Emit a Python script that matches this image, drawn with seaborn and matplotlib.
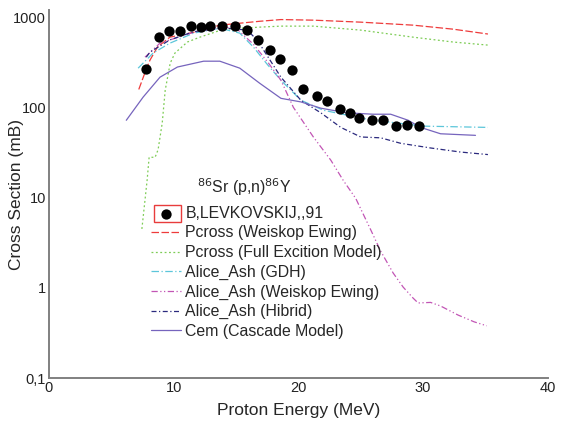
import numpy as np
import pandas as pd
import seaborn as sns
import matplotlib.pyplot as plt
from matplotlib.patches import Rectangle

# experimental data (B,LEVKOVSKIJ,,91)
exp_e = [7.8, 8.8, 9.6, 10.5, 11.4, 12.2, 12.9, 13.9, 14.9, 15.9, 16.8, 17.7, 18.5,
         19.5, 20.4, 21.5, 22.3, 23.3, 24.1, 24.9, 25.9, 26.8, 27.8, 28.7, 29.7]
exp_xs = [265, 600, 700, 700, 795, 775, 795, 795, 800, 718, 556, 431, 343,
          259, 159, 133, 117, 96, 86, 76, 72, 72, 62, 64, 62]

# Pcross (Weiskop Ewing)
pwe_e = [7.2, 7.8, 8.1, 8.7, 9.7, 11.6, 13.7, 16.9, 18.6, 21.2, 25.0, 29.2, 32.4, 35.2]
pwe_xs = [158, 265, 334, 467, 600, 680, 815, 900, 940, 926, 880, 815, 736, 650]

# Pcross (Full Excition Model)
pfe_e = [7.45, 7.87, 8.03, 8.51, 8.75, 9.08, 9.32, 9.72, 10.1, 11.1, 12.1, 14.0,
         16.9, 18.6, 21.2, 25.0, 29.2, 32.4, 35.2]
pfe_xs = [4.5, 15.6, 28, 28, 34, 67, 155, 309, 400, 530, 600, 735,
          775, 795, 795, 718, 600, 530, 490]

# Alice_Ash (GDH)
gdh_e = [7.15, 8.35, 9.7, 11.6, 13.7, 15.3, 16.4, 17.5, 18.6, 20.2, 22.0, 23.9, 26.0, 28.0, 30.0, 35.2]
gdh_xs = [272, 400, 515, 665, 755, 665, 465, 300, 200, 120, 93, 82, 72, 67, 62, 60]

# Alice_Ash (Weiskop Ewing)
awe_e = [7.7, 8.9, 11.6, 13.7, 15.0, 16.4, 17.6, 18.6, 19.6, 21.2, 22.6, 23.6, 24.6,
         25.8, 26.6, 27.6, 28.4, 29.2, 29.6, 30.6, 31.4, 32.8, 34.1, 35.1]
awe_xs = [360, 515, 680, 775, 755, 500, 310, 200, 100, 47, 26, 15.5, 9.8,
          4.4, 2.55, 1.46, 1.02, 0.77, 0.68, 0.69, 0.63, 0.5, 0.42, 0.38]

# Alice_Ash (Hibrid)
hyb_e = [7.8, 8.1, 9.7, 11.6, 14.0, 15.9, 16.7, 18.6, 20.2, 21.8, 23.4, 25.0, 26.6, 28.2, 30.6, 33.0, 35.2]
hyb_xs = [360, 410, 560, 690, 760, 718, 556, 216, 120, 87, 60, 47, 46, 40, 35.5, 32, 30]

# Cem (Cascade Model)
cem_e = [6.2, 7.55, 8.9, 10.3, 12.4, 13.7, 15.3, 16.9, 18.6, 20.2, 21.8, 23.9, 26.0,
         27.4, 28.8, 29.8, 31.4, 34.2]
cem_xs = [72, 130, 216, 280, 325, 325, 272, 185, 126, 115, 98, 87, 84,
          84, 72, 60, 51, 49]

models = [
    ("Pcross (Weiskop Ewing)", pwe_e, pwe_xs, "#ee3b3b", (6, 2)),
    ("Pcross (Full Excition Model)", pfe_e, pfe_xs, "#7dcc55", (1.5, 2)),
    ("Alice_Ash (GDH)", gdh_e, gdh_xs, "#5cc6da", (6, 2, 1, 2)),
    ("Alice_Ash (Weiskop Ewing)", awe_e, awe_xs, "#c255b5", (5, 2, 1, 2, 1, 2)),
    ("Alice_Ash (Hibrid)", hyb_e, hyb_xs, "#2b2a7e", (4, 2, 1, 2)),
    ("Cem (Cascade Model)", cem_e, cem_xs, "#7664bd", None),
]

sns.set_style("white")
plt.rcParams['font.family'] = ['Liberation Sans', 'DejaVu Sans']

fig = plt.figure(figsize=(5.63, 4.22), dpi=100)
ax = fig.add_axes([0.087, 0.104, 0.886, 0.872])

for name, e, xs, col, dash in models:
    df = pd.DataFrame({"E": e, "XS": xs})
    sns.lineplot(data=df, x="E", y="XS", ax=ax, color=col, lw=0.9, label=name)
    if dash is not None:
        ax.lines[-1].set_dashes(dash)

exp_df = pd.DataFrame({"E": exp_e, "XS": exp_xs})
sns.scatterplot(data=exp_df, x="E", y="XS", ax=ax, color="black", s=55,
                edgecolor="black", linewidth=0, label="B,LEVKOVSKIJ,,91", zorder=5)

ax.set_yscale("log")
ax.set_xlim(0, 40)
ax.set_ylim(0.1, 1196)
ax.set_xticks([0, 10, 20, 30, 40])
ax.set_yticks([0.1, 1, 10, 100, 1000])
ax.set_yticklabels(["0,1", "1", "10", "100", "1000"])
ax.minorticks_off()
ax.tick_params(length=0, labelsize=10.5, pad=2, colors="#222222")
ax.set_xlabel("Proton Energy (MeV)", fontsize=12.5, labelpad=6)
ax.set_ylabel("Cross Section (mB)", fontsize=12.5)
ax.yaxis.set_label_coords(-0.05, 0.5)
for s in ["top", "right"]:
    ax.spines[s].set_visible(False)
for s in ["left", "bottom"]:
    ax.spines[s].set_color("#808080")
    ax.spines[s].set_linewidth(1.4)

handles, labels = ax.get_legend_handles_labels()
order = [len(handles) - 1] + list(range(len(handles) - 1))
leg = ax.legend([handles[i] for i in order], [labels[i] for i in order],
                loc="upper left", bbox_to_anchor=(0.205, 0.468), frameon=False,
                fontsize=11.4, handlelength=1.9, handletextpad=0.25,
                labelspacing=0.29, borderaxespad=0, borderpad=0)
ax.text(0.297, 0.52, r"$^{86}$Sr (p,n)$^{86}$Y", transform=ax.transAxes,
        fontsize=11.4, va="center", ha="left")

fig.canvas.draw()
r = fig.canvas.get_renderer()
tb = leg.get_texts()[0].get_window_extent(r)
fig.add_artist(Rectangle((tb.x0 - 31, tb.y0 - 1), 27, tb.height + 2, transform=None,
                         fill=False, edgecolor="#e83c3c", lw=1.0))

fig.savefig("out.png", dpi=100)
